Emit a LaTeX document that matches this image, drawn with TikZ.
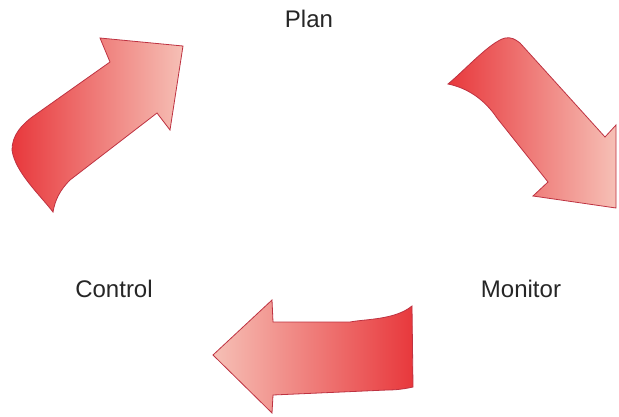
\documentclass[tikz,border=0pt]{standalone}
\usepackage{fontspec}
\setmainfont{Liberation Sans}
\begin{document}
\begin{tikzpicture}[x=1pt,y=-1pt,
  arrowshape/.style={draw=arrowedge, line width=0.8pt, line join=miter},
  lbl/.style={font=\fontsize{24}{28}\selectfont, text=black!85, inner sep=0pt}]
\definecolor{arrowdark}{RGB}{232,56,60}
\definecolor{arrowmid}{RGB}{237,115,106}
\definecolor{arrowlight}{RGB}{246,192,182}
\definecolor{arrowedge}{RGB}{190,50,65}
\useasboundingbox[fill=white] (0,0) rectangle (619,416);

% top-left arrow (Control -> Plan)
\path[arrowshape, left color=arrowdark, middle color=arrowmid, right color=arrowlight]
  (100,38) -- (183,46) -- (170,130) -- (157,113) -- (70,180)
  .. controls (60,190) and (55,200) .. (53,212)
  .. controls (40,195) and (15,172) .. (12,150)
  .. controls (12,135) and (22,124) .. (35,115) -- (110,62) -- cycle;

% top-right arrow (Plan -> Monitor)
\path[arrowshape, left color=arrowdark, middle color=arrowmid, right color=arrowlight]
  (448,84) .. controls (465,70) and (490,42) .. (505,38)
  .. controls (511,37) and (515,39) .. (520,43)
  -- (605,137) -- (616,125) -- (616,208) -- (533,196) -- (548,182)
  -- (497,118) .. controls (485,100) and (468,88) .. (448,84) -- cycle;

% bottom arrow (Monitor -> Control)
\path[arrowshape, left color=arrowlight, middle color=arrowmid, right color=arrowdark]
  (213,355) -- (272,300) -- (273,322) -- (350,322)
  .. controls (365,319) and (395,320) .. (412,306)
  -- (413,387) .. controls (400,390) and (390,390) .. (387,390)
  -- (273,395) -- (272,413) -- cycle;

\node[lbl] (plan) at (309,19) {Plan};
\node[lbl] (control) at (114,289) {Control};
\node[lbl] (monitor) at (521,289) {Monitor};
\end{tikzpicture}
\end{document}
